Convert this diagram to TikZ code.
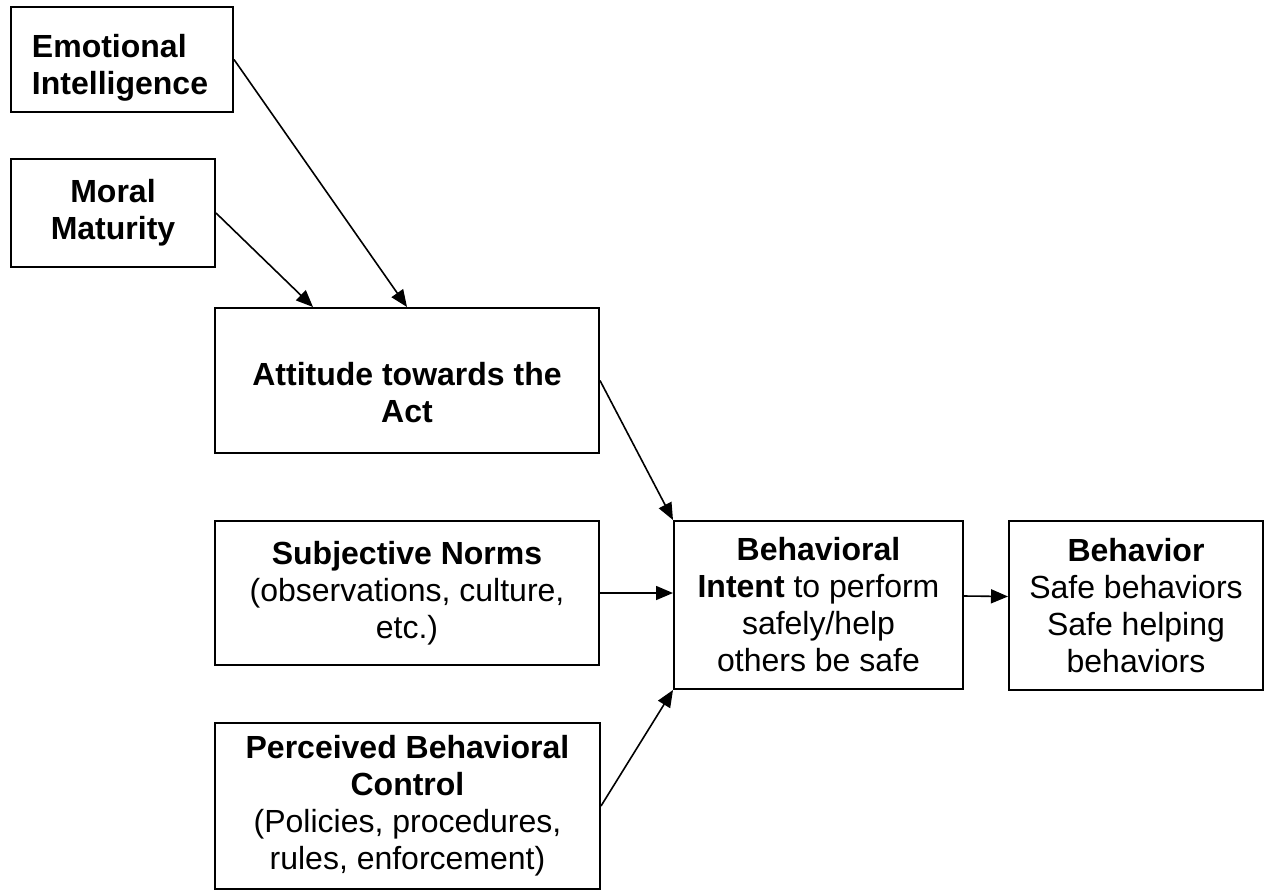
\documentclass[tikz,border=0pt]{standalone}
\usepackage{fontspec}
\setmainfont{Liberation Sans}
\usetikzlibrary{arrows.meta}

\tikzset{
  box/.style={draw,line width=1pt,align=center,inner sep=0pt,
    font=\fontsize{16}{18.5}\selectfont},
  link/.style={->,line width=0.8pt}
}

\begin{document}
\begin{tikzpicture}[x=0.5pt,y=-0.5pt,>={Triangle[length=8.5pt,width=7pt]}]
    \useasboundingbox (0,0) rectangle (1265,890);
    % factors on the left
    \node[box,align=left,text width=90pt,minimum width=111pt,minimum height=52.5pt]
        (emo) at (122,59.5) {\rule{0pt}{19.5pt}\textbf{Emotional}\\\textbf{Intelligence}};
    \node[box,minimum width=102pt,minimum height=54pt]
        (moral) at (113,213) {\textbf{Moral}\\\textbf{Maturity}};
    \node[box,minimum width=192pt,minimum height=72.5pt]
        (att) at (407,380.5) {\rule{0pt}{23.5pt}\textbf{Attitude towards the}\\\textbf{Act}};
    \node[box,minimum width=192pt,minimum height=72pt]
        (norms) at (407,593) {\textbf{Subjective Norms}\\(observations, culture,\\etc.)};
    \node[box,minimum width=192.5pt,minimum height=83pt]
        (control) at (407.5,806) {\textbf{Perceived Behavioral}\\\textbf{Control}\\(Policies, procedures,\\rules, enforcement)};
    % intent and behavior
    \node[box,minimum width=144.5pt,minimum height=84pt]
        (intent) at (818.5,605) {\textbf{Behavioral}\\\textbf{Intent} to perform\\safely/help\\others be safe};
    \node[box,minimum width=127pt,minimum height=84.5pt]
        (behav) at (1136,605.5) {\textbf{Behavior}\\Safe behaviors\\Safe helping\\behaviors};
    % arrows
    \draw[link] (emo.east) -- (att.north);
    \draw[link] (moral.east) -- ([xshift=-47pt]att.north);
    \draw[link] (att.east) -- (intent.north west);
    \draw[link] (norms.east) -- (norms.east -| intent.west);
    \draw[link] (control.east) -- (intent.south west);
    \draw[link] ([yshift=4.5pt]intent.east) -- ([yshift=4.5pt]behav.west);
\end{tikzpicture}
\end{document}
